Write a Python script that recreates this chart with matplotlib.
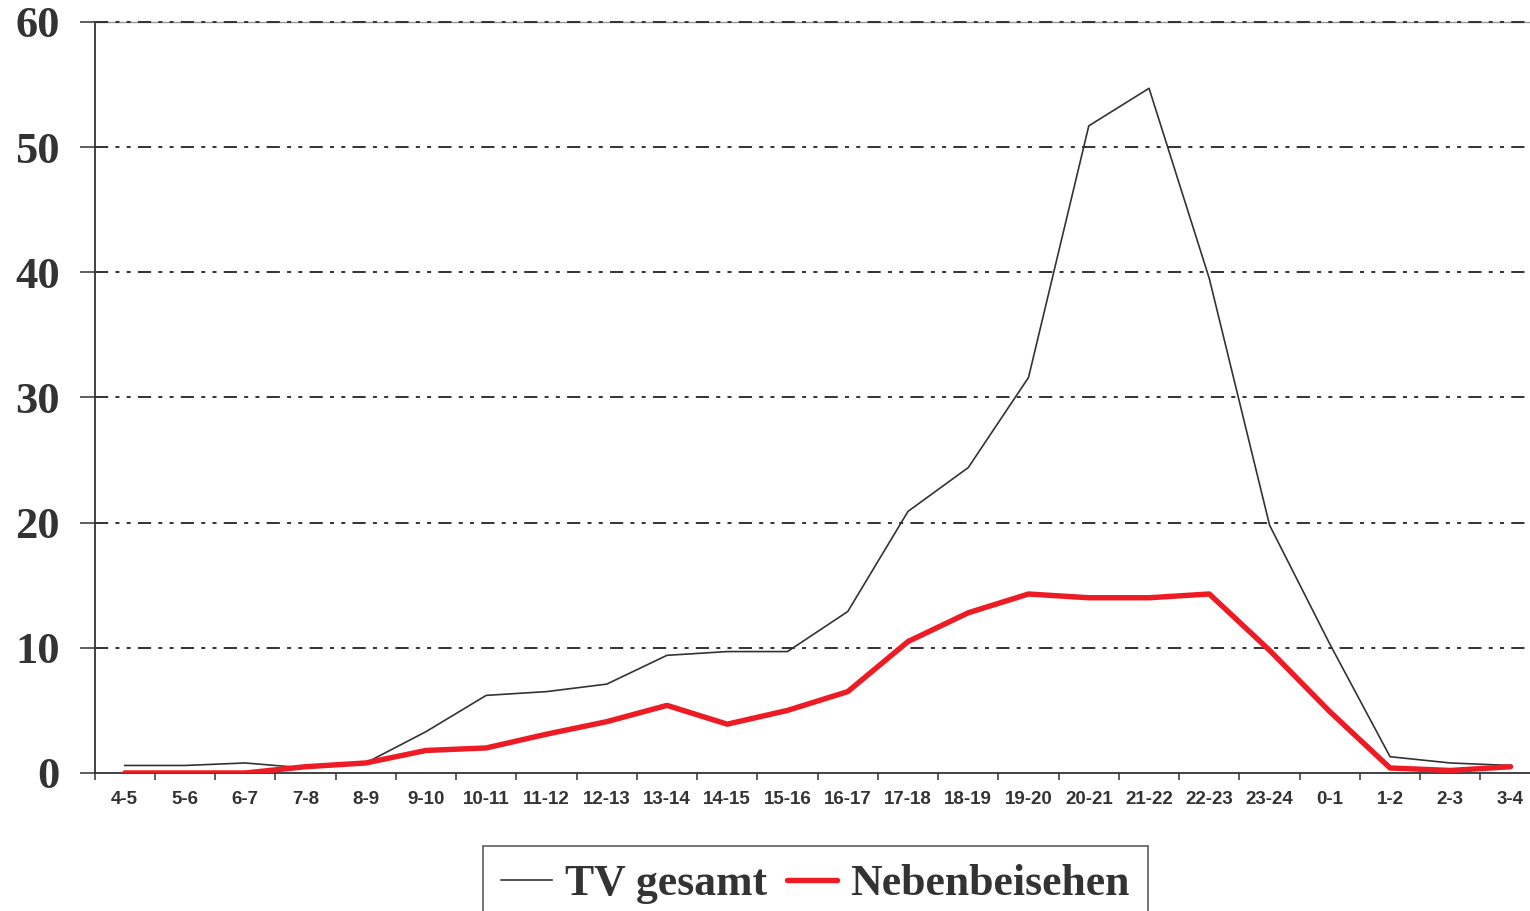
import numpy as np
import matplotlib.pyplot as plt

plt.rcParams['lines.scale_dashes'] = False

hours = ['4-5', '5-6', '6-7', '7-8', '8-9', '9-10', '10-11', '11-12', '12-13',
         '13-14', '14-15', '15-16', '16-17', '17-18', '18-19', '19-20', '20-21',
         '21-22', '22-23', '23-24', '0-1', '1-2', '2-3', '3-4']
tv_gesamt = [0.6, 0.6, 0.8, 0.4, 0.8, 3.3, 6.2, 6.5, 7.1, 9.4, 9.7, 9.7, 12.9,
             20.9, 24.4, 31.6, 51.7, 54.7, 39.5, 19.8, 10.3, 1.3, 0.8, 0.6]
neben = [0.0, 0.0, 0.0, 0.5, 0.8, 1.8, 2.0, 3.1, 4.1, 5.4, 3.9, 5.0, 6.5,
         10.5, 12.8, 14.3, 14.0, 14.0, 14.3, 9.8, 4.9, 0.4, 0.2, 0.5]
yticks = [0, 10, 20, 30, 40, 50, 60]

dark = '#333333'
red = '#ED1C24'

fig = plt.figure(figsize=(15.3, 9.11), dpi=100)
ax = fig.add_axes([0.0618, 0.1515, 0.9452, 0.8244])

x = np.arange(len(hours))
ax.plot(x, tv_gesamt, color=dark, lw=1.2, label='TV gesamt', zorder=3)
ax.plot(x, neben, color=red, lw=3.9, label='Nebenbeisehen',
        solid_capstyle='round', solid_joinstyle='round', zorder=4)

ax.set_xlim(-0.5, len(hours) - 0.5)
ax.set_ylim(0, 60)

# y axis
ax.set_yticks(yticks)
ax.set_yticklabels([str(v) for v in yticks], fontfamily='Liberation Serif',
                   fontweight='bold', fontsize=32, color=dark)
ax.tick_params(axis='y', direction='out', length=11, width=1.1, color=dark, pad=14)

# x axis: labels at centres, tick marks at boundaries
ax.set_xticks(x)
ax.set_xticklabels(hours, fontfamily='Liberation Sans', fontweight='bold',
                   fontsize=13.5, color=dark)
ax.tick_params(axis='x', which='major', length=0, pad=13)
ax.set_xticks(np.arange(-0.5, len(hours)), minor=True)
ax.tick_params(axis='x', which='minor', direction='out', length=5, width=1.1, color=dark)

ax.spines['left'].set_color(dark)
ax.spines['left'].set_linewidth(1.3)
ax.spines['bottom'].set_color(dark)
ax.spines['bottom'].set_linewidth(1.3)
ax.spines['top'].set_color('#999999')
ax.spines['top'].set_linewidth(1.0)
ax.spines['right'].set_visible(False)

# dash-dot-dot grid, drawn above the pale top spine
for y in yticks[1:]:
    ax.axhline(y, color=dark, lw=1.4, dashes=(9.5, 5.2, 2.9, 5.2, 2.9, 5.2),
               zorder=2.6, clip_on=False)

leg = fig.legend(loc='upper center', bbox_to_anchor=(0.533, 0.0714), ncol=2,
                 frameon=True, fancybox=False, handlelength=1.15, handletextpad=0.3,
                 columnspacing=0.45, borderpad=0.42, borderaxespad=0,
                 prop={'family': 'Liberation Serif', 'weight': 'bold', 'size': 31.5})
leg.get_frame().set_edgecolor(dark)
leg.get_frame().set_linewidth(1.2)
for t in leg.get_texts():
    t.set_color(dark)

fig.savefig('out.png', dpi=100)
